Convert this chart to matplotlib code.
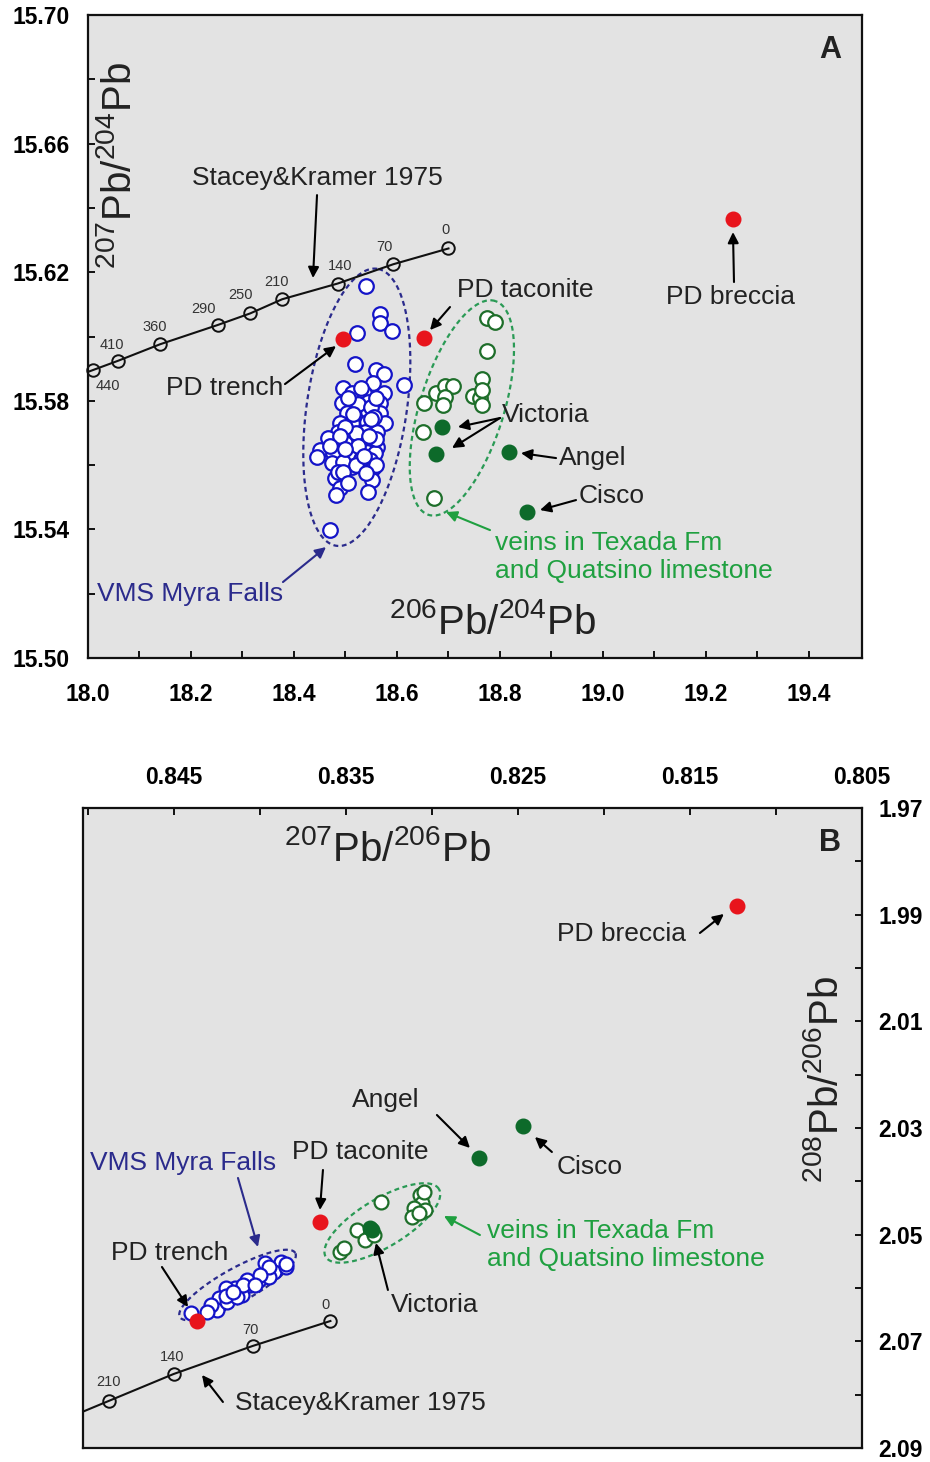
import numpy as np
import matplotlib
matplotlib.use("Agg")
import matplotlib.pyplot as plt

plt.rcParams['font.family'] = ['Liberation Sans', 'DejaVu Sans']
plt.rcParams['mathtext.fontset'] = 'custom'
plt.rcParams['mathtext.rm'] = 'Liberation Sans'
plt.rcParams['mathtext.it'] = 'Liberation Sans'
plt.rcParams['mathtext.bf'] = 'Liberation Sans:bold'
plt.rcParams['mathtext.default'] = 'regular'

# ---------------- DATA: panel A (206Pb/204Pb vs 207Pb/204Pb) ----------------
sk_age = [440, 410, 360, 290, 250, 210, 140, 70, 0]
sk_a_x = [18.010, 18.059, 18.140, 18.252, 18.315, 18.377, 18.485, 18.593, 18.700]
sk_a_y = [15.5896, 15.5925, 15.5976, 15.6036, 15.6072, 15.6116, 15.6165, 15.6225, 15.6274]

myra_a_x = [18.540, 18.567, 18.567, 18.590, 18.523, 18.519, 18.559, 18.575, 18.614, 18.554,
            18.496, 18.512, 18.535, 18.575, 18.493, 18.544, 18.567, 18.502, 18.527, 18.567,
            18.544, 18.489, 18.512, 18.541, 18.564, 18.577, 18.486, 18.509, 18.538, 18.561,
            18.467, 18.499, 18.531, 18.561, 18.450, 18.476, 18.509, 18.541, 18.557, 18.444,
            18.473, 18.512, 18.548, 18.554, 18.480, 18.551, 18.489, 18.544, 18.482, 18.470,
            18.525, 18.550, 18.520, 18.500, 18.530, 18.495, 18.560, 18.520, 18.485, 18.555,
            18.505, 18.530, 18.560, 18.515, 18.550, 18.490, 18.525, 18.545, 18.470, 18.500,
            18.535, 18.560, 18.495, 18.540, 18.505]
myra_a_y = [15.6157, 15.6070, 15.6043, 15.6017, 15.6010, 15.5914, 15.5896, 15.5883, 15.5848, 15.5854,
            15.5839, 15.5823, 15.5823, 15.5825, 15.5792, 15.5797, 15.5792, 15.5763, 15.5756, 15.5763,
            15.5766, 15.5730, 15.5730, 15.5735, 15.5725, 15.5730, 15.5704, 15.5699, 15.5704, 15.5704,
            15.5683, 15.5668, 15.5678, 15.5657, 15.5647, 15.5637, 15.5642, 15.5642, 15.5637, 15.5626,
            15.5606, 15.5595, 15.5616, 15.5590, 15.5559, 15.5554, 15.5528, 15.5517, 15.5507, 15.5398,
            15.5790, 15.5780, 15.5700, 15.5720, 15.5620, 15.5610, 15.5680, 15.5600, 15.5580, 15.5750,
            15.5810, 15.5840, 15.5810, 15.5760, 15.5745, 15.5690, 15.5660, 15.5690, 15.5660, 15.5650,
            15.5630, 15.5600, 15.5580, 15.5575, 15.5545]

veins_a_x = [18.775, 18.790, 18.775, 18.765, 18.676, 18.693, 18.709, 18.693, 18.652, 18.690,
             18.748, 18.761, 18.765, 18.765, 18.650, 18.671]
veins_a_y = [15.6057, 15.6044, 15.5955, 15.5867, 15.5825, 15.5846, 15.5846, 15.5813, 15.5794, 15.5787,
             15.5815, 15.5808, 15.5834, 15.5787, 15.5704, 15.5497]

named_a_x = [18.687, 18.676, 18.817, 18.852]      # Victoria, Victoria, Angel, Cisco
named_a_y = [15.5719, 15.5635, 15.5641, 15.5454]

pd_a_x = [18.495, 18.652, 19.252]                 # PD trench, PD taconite, PD breccia
pd_a_y = [15.5992, 15.5995, 15.6365]

# ---------------- DATA: panel B (207Pb/206Pb vs 208Pb/206Pb) ----------------
sk_b_age = [210, 140, 70, 0]
sk_b_x = [0.84881, 0.84503, 0.84044, 0.83591]
sk_b_y = [2.08119, 2.07613, 2.07088, 2.06619]

myra_b_x = [0.84404, 0.83881, 0.83920, 0.83969, 0.84007, 0.84056, 0.84104, 0.84143, 0.84201, 0.84240,
            0.84249, 0.84288, 0.84191, 0.84133, 0.83949, 0.83852, 0.84075, 0.84307,
            0.83950, 0.84100, 0.84200, 0.84000, 0.83850, 0.84160, 0.84030]
myra_b_y = [2.06474, 2.05507, 2.05694, 2.05537, 2.05850, 2.05944, 2.06131, 2.06006, 2.06006, 2.06193,
            2.06413, 2.06319, 2.06257, 2.06163, 2.05788, 2.05601, 2.05850, 2.06444,
            2.05600, 2.05950, 2.06150, 2.05750, 2.05550, 2.06080, 2.05950]

veins_b_x = [0.83295, 0.83068, 0.83058, 0.83107, 0.83116, 0.83039, 0.83078, 0.83436, 0.83388, 0.83339,
             0.83533, 0.83514, 0.83049]
veins_b_y = [2.04382, 2.04256, 2.04412, 2.04506, 2.04663, 2.04538, 2.04599, 2.04913, 2.05100, 2.05006,
             2.05319, 2.05256, 2.04194]

named_b_x = [0.83347, 0.83360, 0.82725, 0.82470]  # Victoria, Victoria, Angel, Cisco
named_b_y = [2.04913, 2.04870, 2.03563, 2.02963]

pd_b_x = [0.84364, 0.83649, 0.81226]              # PD trench, PD taconite, PD breccia
pd_b_y = [2.06619, 2.04763, 1.98838]

# ---------------- STYLE ----------------
BG = '#e3e3e3'
BLUE = '#1414c8'
NAVY = '#2b2b8c'
GREEN_EDGE = '#1e6e2a'
GREEN_FILL = '#0d6a2a'
GREEN_DASH = '#2a9a55'
GREEN_TXT = '#1fa040'
RED = '#e8141c'
TXT = '#222222'

fig = plt.figure(figsize=(9.3, 14.62), dpi=100)
axA = fig.add_axes([0.0946, 0.5499, 0.8323, 0.4398])
axB = fig.add_axes([0.0892, 0.00958, 0.8376, 0.43776])

for ax in (axA, axB):
    ax.set_facecolor(BG)
    for s in ax.spines.values():
        s.set_linewidth(1.6)
        s.set_color('#111111')


def dashed_ellipse(ax, cx, cy, a_px, b_px, ang_deg, color):
    c = ax.transData.transform((cx, cy))
    t = np.linspace(0, 2 * np.pi, 200)
    th = np.deg2rad(ang_deg)
    ex = a_px * np.cos(t)
    ey = b_px * np.sin(t)
    px = c[0] + ex * np.cos(th) - ey * np.sin(th)
    py = c[1] + ex * np.sin(th) + ey * np.cos(th)
    d = ax.transData.inverted().transform(np.column_stack([px, py]))
    ax.plot(d[:, 0], d[:, 1], ls=(0, (2.2, 1.6)), color=color, lw=1.6, zorder=2)


def arrow(ax, tail, head, color='black'):
    ax.annotate('', xy=head, xytext=tail, xycoords='axes fraction', textcoords='axes fraction',
                arrowprops=dict(arrowstyle='-|>', color=color, lw=1.5, mutation_scale=16,
                                shrinkA=0, shrinkB=0), zorder=6)


def label(ax, x, y, s, color=TXT, size=19, ha='center', **kw):
    ax.text(x, y, s, transform=ax.transAxes, color=color, fontsize=size, ha=ha, va='center', **kw)


TICK_FS = 16.5

# ================= PANEL A =================
axA.set_xlim(18.0, 19.503)
axA.set_ylim(15.50, 15.70)
axA.set_xticks(np.arange(18.0, 19.41, 0.2))
axA.set_xticks(np.arange(18.1, 19.5, 0.1), minor=True)
axA.set_yticks(np.arange(15.50, 15.701, 0.04))
axA.set_yticks(np.arange(15.52, 15.70, 0.02), minor=True)
axA.xaxis.set_major_formatter(matplotlib.ticker.FormatStrFormatter('%.1f'))
axA.yaxis.set_major_formatter(matplotlib.ticker.FormatStrFormatter('%.2f'))
axA.tick_params(which='both', direction='in', length=5, width=1.4, labelsize=TICK_FS, color='#111111')
axA.tick_params(axis='x', pad=18)
axA.tick_params(axis='y', pad=13)
for lab in axA.get_xticklabels() + axA.get_yticklabels():
    lab.set_fontweight('bold')

# Stacey & Kramer line (extended to the left axis edge)
slopeA = (sk_a_y[1] - sk_a_y[0]) / (sk_a_x[1] - sk_a_x[0])
x0A = axA.get_xlim()[0]
axA.plot([x0A] + sk_a_x, [sk_a_y[0] + slopeA * (x0A - sk_a_x[0])] + sk_a_y, color='#111111', lw=1.5, zorder=3)
axA.plot(sk_a_x, sk_a_y, 'o', ms=9, mfc='none', mec='#111111', mew=1.4, zorder=3, clip_on=False)
offA = [(15, -16), (-6, 16), (-5, 17), (-14, 16), (-10, 18), (-6, 17), (2, 18), (-9, 17), (-3, 18)]
for age, x, y, off in zip(sk_age, sk_a_x, sk_a_y, offA):
    axA.annotate(str(age), (x, y), xytext=off, textcoords='offset pixels', ha='center', va='center',
                 fontsize=10.5, color='#333333')

dashed_ellipse(axA, 18.522, 15.578, 140, 50, 81.6, NAVY)
dashed_ellipse(axA, 18.726, 15.5778, 112, 42, 72.7, GREEN_DASH)

axA.plot(myra_a_x, myra_a_y, 'o', ms=10.5, mfc='white', mec=BLUE, mew=1.6, zorder=4, ls='none')
axA.plot(veins_a_x, veins_a_y, 'o', ms=10.5, mfc='white', mec=GREEN_EDGE, mew=1.6, zorder=4, ls='none')
axA.plot(named_a_x, named_a_y, 'o', ms=10.5, mfc=GREEN_FILL, mec=GREEN_FILL, zorder=5, ls='none')
axA.plot(pd_a_x, pd_a_y, 'o', ms=10.5, mfc=RED, mec=RED, zorder=5, ls='none')

label(axA, 0.9587, 0.9456, 'A', size=22, fontweight='bold')
label(axA, 0.0413, 0.7667, r'$^{207}$Pb/$^{204}$Pb', size=29, rotation=90)
label(axA, 0.522, 0.056, r'$^{206}$Pb/$^{204}$Pb', size=29)

label(axA, 0.2959, 0.7465, 'Stacey&Kramer 1975')
arrow(axA, (0.2959, 0.720), (0.2907, 0.591))
label(axA, 0.5646, 0.5723, 'PD taconite')
arrow(axA, (0.4677, 0.5459), (0.4419, 0.5101))
label(axA, 0.8307, 0.5614, 'PD breccia')
arrow(axA, (0.8346, 0.5848), (0.8333, 0.6625))
label(axA, 0.177, 0.4199, 'PD trench')
arrow(axA, (0.2545, 0.4261), (0.3204, 0.4852))
label(axA, 0.5917, 0.3779, 'Victoria')
arrow(axA, (0.5323, 0.3733), (0.478, 0.3593))
arrow(axA, (0.5323, 0.3733), (0.4703, 0.3266))
label(axA, 0.6525, 0.311, 'Angel')
arrow(axA, (0.6047, 0.311), (0.5594, 0.3188))
label(axA, 0.677, 0.252, 'Cisco')
arrow(axA, (0.6305, 0.2457), (0.584, 0.2302))
label(axA, 0.5258, 0.157, 'veins in Texada Fm\nand Quatsino limestone', color=GREEN_TXT, ha='left',
      linespacing=1.2)
arrow(axA, (0.5194, 0.199), (0.4625, 0.227), color=GREEN_TXT)
label(axA, 0.1318, 0.0995, 'VMS Myra Falls', color=NAVY)
arrow(axA, (0.2519, 0.1182), (0.3075, 0.1726), color=NAVY)

# ================= PANEL B =================
axB.set_xlim(0.8503, 0.805)
axB.set_ylim(2.09, 1.97)
axB.xaxis.tick_top()
axB.yaxis.tick_right()
axB.set_xticks([0.845, 0.835, 0.825, 0.815, 0.805])
axB.set_xticks([0.850, 0.840, 0.830, 0.820, 0.810], minor=True)
axB.set_yticks(np.arange(1.97, 2.0901, 0.02))
axB.set_yticks(np.arange(1.98, 2.09, 0.02), minor=True)
axB.xaxis.set_major_formatter(matplotlib.ticker.FormatStrFormatter('%.3f'))
axB.yaxis.set_major_formatter(matplotlib.ticker.FormatStrFormatter('%.2f'))
axB.tick_params(which='both', direction='in', length=5, width=1.4, labelsize=TICK_FS, color='#111111')
axB.tick_params(axis='x', pad=14)
axB.tick_params(axis='y', pad=12)
for lab in axB.get_xticklabels() + axB.get_yticklabels():
    lab.set_fontweight('bold')

slopeB = (sk_b_y[1] - sk_b_y[0]) / (sk_b_x[1] - sk_b_x[0])
x0B = axB.get_xlim()[0]
axB.plot([x0B] + sk_b_x, [sk_b_y[0] + slopeB * (x0B - sk_b_x[0])] + sk_b_y, color='#111111', lw=1.5, zorder=3)
axB.plot(sk_b_x, sk_b_y, 'o', ms=9, mfc='none', mec='#111111', mew=1.4, zorder=3)
offB = [(0, 19), (-1, 17), (-2, 16), (-5, 16)]
for age, x, y, off in zip(sk_b_age, sk_b_x, sk_b_y, offB):
    axB.annotate(str(age), (x, y), xytext=off, textcoords='offset pixels', ha='center', va='center',
                 fontsize=10.5, color='#333333')

dashed_ellipse(axB, 0.84131, 2.05944, 66, 17, 29, NAVY)
dashed_ellipse(axB, 0.83289, 2.04781, 66, 24, 31, GREEN_DASH)

axB.plot(myra_b_x, myra_b_y, 'o', ms=10, mfc='white', mec=BLUE, mew=1.6, zorder=4, ls='none')
axB.plot(veins_b_x, veins_b_y, 'o', ms=10, mfc='white', mec=GREEN_EDGE, mew=1.6, zorder=4, ls='none')
axB.plot(named_b_x, named_b_y, 'o', ms=10.5, mfc=GREEN_FILL, mec=GREEN_FILL, zorder=5, ls='none')
axB.plot(pd_b_x, pd_b_y, 'o', ms=10.5, mfc=RED, mec=RED, zorder=5, ls='none')

label(axB, 0.9589, 0.9453, 'B', size=22, fontweight='bold')
label(axB, 0.3915, 0.9344, r'$^{207}$Pb/$^{206}$Pb', size=29)
label(axB, 0.955, 0.575, r'$^{208}$Pb/$^{206}$Pb', size=29, rotation=90)

label(axB, 0.6919, 0.8031, 'PD breccia')
arrow(axB, (0.792, 0.8047), (0.8228, 0.8344))
label(axB, 0.389, 0.5438, 'Angel')
arrow(axB, (0.4544, 0.5203), (0.4968, 0.4688))
label(axB, 0.6508, 0.4391, 'Cisco')
arrow(axB, (0.602, 0.4625), (0.5802, 0.4859))
label(axB, 0.3556, 0.4625, 'PD taconite')
arrow(axB, (0.3081, 0.4344), (0.3042, 0.3719))
label(axB, 0.1284, 0.4453, 'VMS Myra Falls', color=NAVY)
arrow(axB, (0.199, 0.4219), (0.2246, 0.3141), color=NAVY)
label(axB, 0.1117, 0.3047, 'PD trench')
arrow(axB, (0.1014, 0.2828), (0.1348, 0.2203))
label(axB, 0.5186, 0.3172, 'veins in Texada Fm\nand Quatsino limestone', color=GREEN_TXT, ha='left',
      linespacing=1.2)
arrow(axB, (0.5096, 0.3328), (0.4634, 0.3625), color=GREEN_TXT)
label(axB, 0.4519, 0.2234, 'Victoria')
arrow(axB, (0.3915, 0.2469), (0.3761, 0.3203))
label(axB, 0.3556, 0.0703, 'Stacey&Kramer 1975')
arrow(axB, (0.1797, 0.0719), (0.1528, 0.1141))

fig.savefig('out.png', dpi=100, facecolor='white')
